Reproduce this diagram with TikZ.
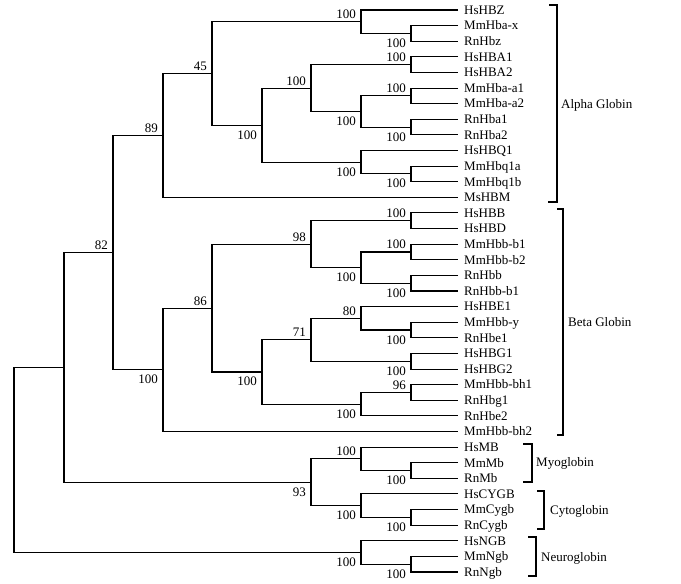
\documentclass[tikz,border=0pt]{standalone}
\usepackage{fontspec}
\setmainfont{Liberation Serif}
\usetikzlibrary{calc}
\newcommand\clade[4]{%
  \path let \p1=(#3), \p2=(#4) in coordinate (#1) at (#2pt, {0.5*\y1+0.5*\y2});
  \draw[edge] (#3) -| (#1) |- (#4);}
\newcommand\uplab[2]{\node[lab, anchor=base east] (lab#1) at ([xshift=-5pt,yshift=3pt]#1) {#2};}
\newcommand\dnlab[2]{\node[lab, anchor=base east] (lab#1) at ([xshift=-5pt,yshift=-14pt]#1) {#2};}
\begin{document}
\begin{tikzpicture}[x=1pt,y=-1pt,
  edge/.style={line width=1.1pt, line join=miter},
  leaf/.style={anchor=west, inner xsep=6pt, inner ysep=0pt, text height=8.6pt, text depth=0pt, font=\fontsize{13}{15}\selectfont},
  lab/.style={inner sep=0pt, font=\fontsize{13}{15}\selectfont},
  grp/.style={anchor=west, inner sep=0pt, text height=8.6pt, text depth=0pt, font=\fontsize{13}{15}\selectfont},
  brk/.style={line width=1.1pt, line join=miter}]
\useasboundingbox (0,0) rectangle (681,584);
\foreach \n [count=\i from 0] in {HsHBZ,MmHba-x,RnHbz,HsHBA1,HsHBA2,MmHba-a1,MmHba-a2,RnHba1,RnHba2,HsHBQ1,MmHbq1a,MmHbq1b,MsHBM,HsHBB,HsHBD,MmHbb-b1,MmHbb-b2,RnHbb,RnHbb-b1,HsHBE1,MmHbb-y,RnHbe1,HsHBG1,HsHBG2,MmHbb-bh1,RnHbg1,RnHbe2,MmHbb-bh2,HsMB,MmMb,RnMb,HsCYGB,MmCygb,RnCygb,HsNGB,MmNgb,RnNgb}
  \node[leaf] (L\i) at (458, {10+15.611*\i}) {\n};
% alpha
\clade{a1}{411}{L1.west}{L2.west} \dnlab{a1}{100}
\clade{a2}{361}{L0.west}{a1} \uplab{a2}{100}
\clade{a3}{411}{L3.west}{L4.west} \uplab{a3}{100}
\clade{a4}{411}{L5.west}{L6.west} \uplab{a4}{100}
\clade{a5}{411}{L7.west}{L8.west} \dnlab{a5}{100}
\clade{a6}{361}{a4}{a5} \dnlab{a6}{100}
\clade{a7}{311}{a3}{a6} \uplab{a7}{100}
\clade{a8}{411}{L10.west}{L11.west} \dnlab{a8}{100}
\clade{a9}{361}{L9.west}{a8} \dnlab{a9}{100}
\clade{a10}{262}{a7}{a9} \dnlab{a10}{100}
\clade{a11}{212}{a2}{a10} \uplab{a11}{45}
\clade{a12}{163}{a11}{L12.west} \uplab{a12}{89}
% beta
\clade{b1}{411}{L13.west}{L14.west} \uplab{b1}{100}
\clade{b2}{411}{L15.west}{L16.west} \uplab{b2}{100}
\clade{b3}{411}{L17.west}{L18.west} \dnlab{b3}{100}
\clade{b4}{361}{b2}{b3} \dnlab{b4}{100}
\clade{b5}{311}{b1}{b4} \uplab{b5}{98}
\clade{b6}{411}{L20.west}{L21.west} \dnlab{b6}{100}
\clade{b7}{361}{L19.west}{b6} \uplab{b7}{80}
\clade{b8}{411}{L22.west}{L23.west} \dnlab{b8}{100}
\clade{b9}{311}{b7}{b8} \uplab{b9}{71}
\clade{b10}{411}{L24.west}{L25.west} \uplab{b10}{96}
\clade{b11}{361}{b10}{L26.west} \dnlab{b11}{100}
\clade{b12}{262}{b9}{b11} \dnlab{b12}{100}
\clade{b13}{212}{b5}{b12} \uplab{b13}{86}
\clade{b14}{163}{b13}{L27.west} \dnlab{b14}{100}
\clade{c82}{113}{a12}{b14} \uplab{c82}{82}
% myo, cyto
\clade{m1}{411}{L29.west}{L30.west} \dnlab{m1}{100}
\clade{m2}{361}{L28.west}{m1} \uplab{m2}{100}
\clade{c1}{411}{L32.west}{L33.west} \dnlab{c1}{100}
\clade{c2}{361}{L31.west}{c1} \dnlab{c2}{100}
\clade{c93}{311}{m2}{c2} \dnlab{c93}{93}
\clade{c64}{64}{c82}{c93}
% neuro
\clade{n1}{411}{L35.west}{L36.west} \dnlab{n1}{100}
\clade{n2}{361}{L34.west}{n1} \dnlab{n2}{100}
\clade{root}{14}{c64}{n2}
% brackets
\draw[brk] (549,5) -- (557,5) -- (557,202) -- (548,202);
\node[grp] (galpha) at (561,104) {Alpha Globin};
\draw[brk] (557,209) -- (563,209) -- (563,435) -- (557,435);
\node[grp] (gbeta) at (568,322) {Beta Globin};
\draw[brk] (523,444) -- (532,444) -- (532,482) -- (523,482);
\node[grp] (gmyo) at (536,462) {Myoglobin};
\draw[brk] (537,491) -- (544,491) -- (544,529) -- (537,529);
\node[grp] (gcyto) at (550,510) {Cytoglobin};
\draw[brk] (528,537) -- (536,537) -- (536,576) -- (528,576);
\node[grp] (gneuro) at (541,557) {Neuroglobin};
\end{tikzpicture}
\end{document}
